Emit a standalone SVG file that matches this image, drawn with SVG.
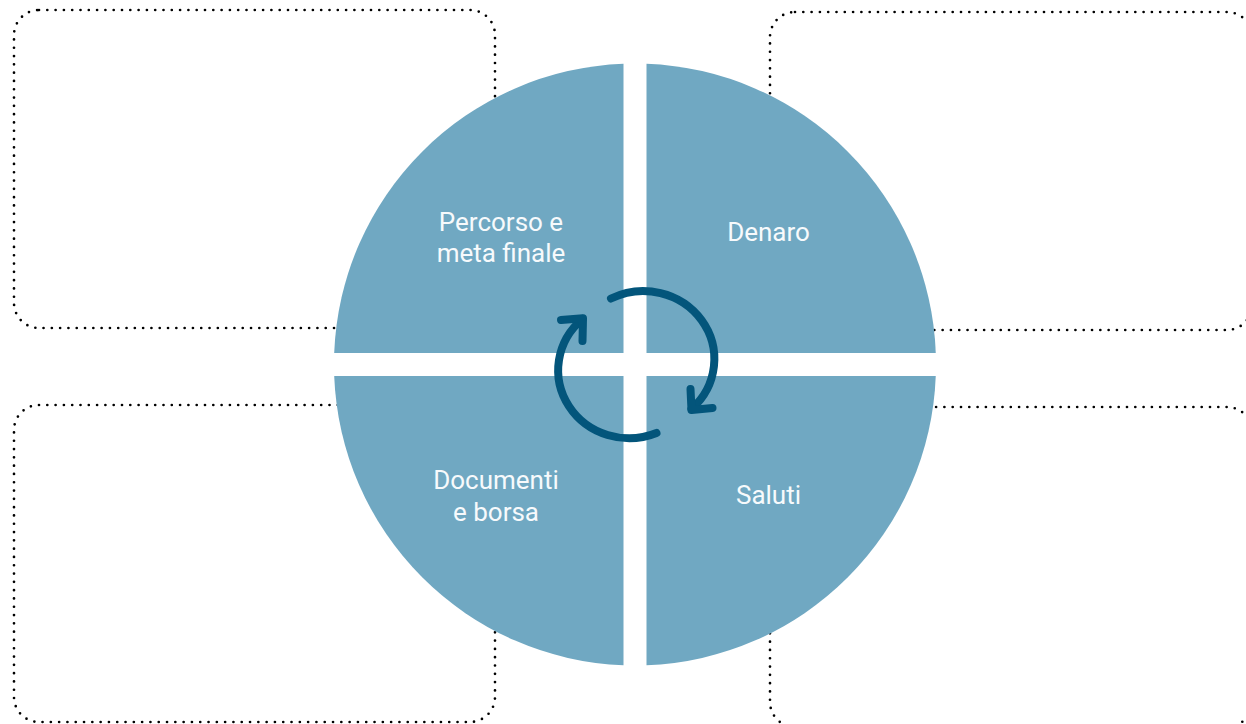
<svg xmlns="http://www.w3.org/2000/svg" width="1246" height="724" viewBox="0 0 1246 724">
  <style>
    .box { fill: none; stroke: #000; stroke-width: 2.7; stroke-dasharray: 0 8.3; stroke-linecap: round; }
    .quad { fill: #70A8C2; }
    .lbl { font-family: Roboto, "Liberation Sans", sans-serif; font-size: 26px; fill: #F7FAFC; text-anchor: middle; }
    .cyc { fill: none; stroke: #03557B; stroke-width: 8; stroke-linecap: round; stroke-linejoin: round; }
  </style>
  <rect width="1246" height="724" fill="#FFFFFF"/>
  <g id="boxes">
    <rect class="box" x="14" y="10" width="481" height="318" rx="25"/>
    <rect class="box" x="770" y="12" width="482" height="318" rx="25"/>
    <rect class="box" x="14" y="405" width="481" height="317" rx="25"/>
    <rect class="box" x="770" y="407" width="482" height="320" rx="25"/>
  </g>
  <g id="q-percorso">
    <path class="quad" d="M 623.5 353 L 334.22 353 A 301 301 0 0 1 623.5 63.72 Z"/>
    <text class="lbl" x="501" y="231">Percorso e</text>
    <text class="lbl" x="501" y="262">meta finale</text>
  </g>
  <g id="q-denaro">
    <path class="quad" d="M 646.5 353 L 646.5 63.72 A 301 301 0 0 1 935.78 353 Z"/>
    <text class="lbl" x="768.5" y="241">Denaro</text>
  </g>
  <g id="q-saluti">
    <path class="quad" d="M 646.5 376 L 935.78 376 A 301 301 0 0 1 646.5 665.28 Z"/>
    <text class="lbl" x="768.5" y="504">Saluti</text>
  </g>
  <g id="q-documenti">
    <path class="quad" d="M 623.5 376 L 623.5 665.28 A 301 301 0 0 1 334.22 376 Z"/>
    <text class="lbl" x="496" y="489">Documenti</text>
    <text class="lbl" x="496" y="521">e borsa</text>
  </g>
  <g id="connectors">
    <path class="cyc" d="M 611 298.5 A 71 68 0 0 1 691.5 409"/>
    <path class="cyc" d="M 690.5 389 L 691.5 410 L 712.5 408"/>
    <path class="cyc" d="M 656.5 433 A 71 68 0 0 1 582.5 319"/>
    <path class="cyc" d="M 561 320 L 583 318.3 L 582.5 341"/>
  </g>
</svg>
